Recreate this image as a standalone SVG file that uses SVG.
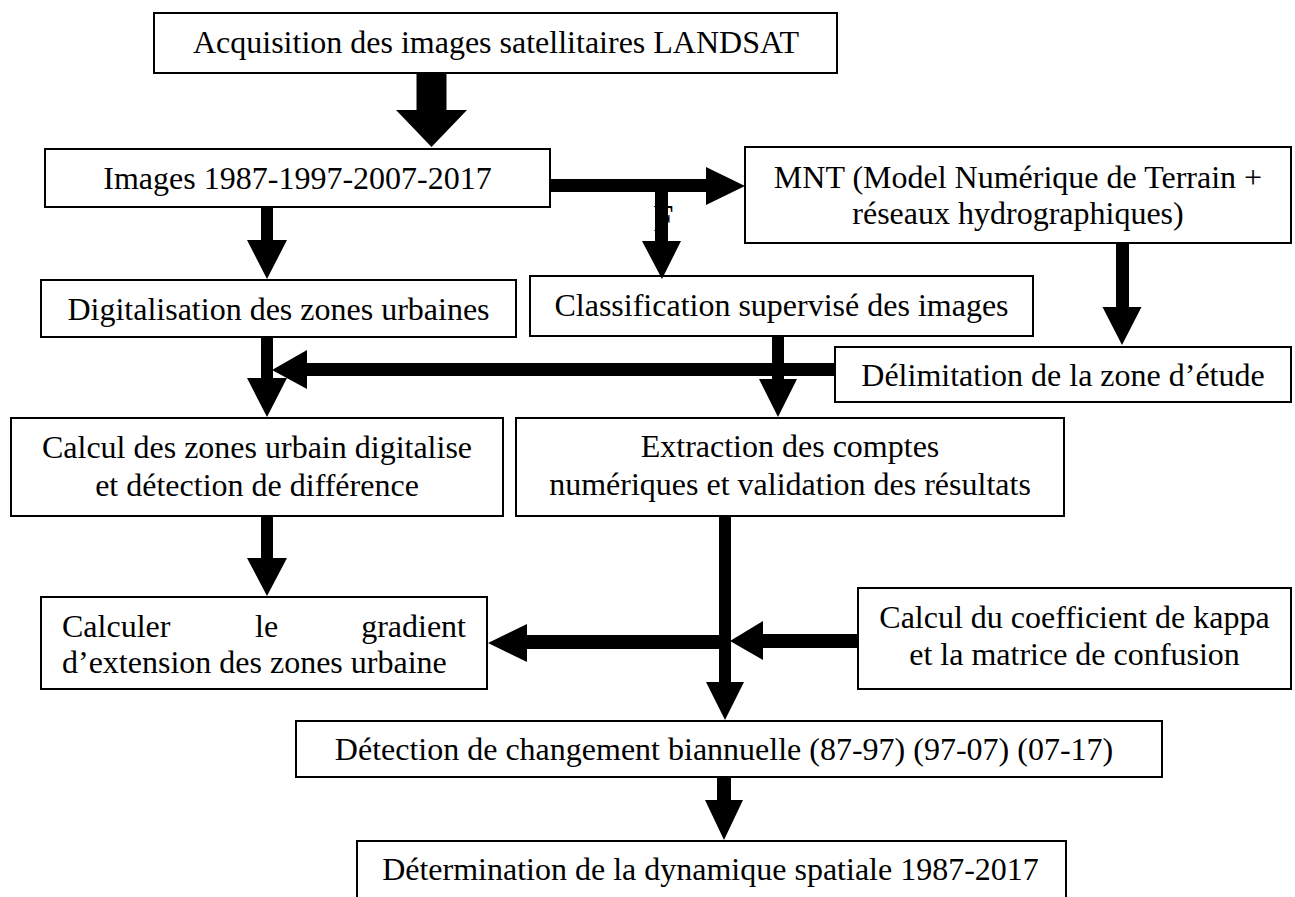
<svg xmlns="http://www.w3.org/2000/svg" width="1295" height="897" viewBox="0 0 1295 897">
<style>
.box{fill:#fff;stroke:#000;stroke-width:2}
.t{font-family:"Liberation Serif","Times New Roman",serif;font-size:32px;fill:#000;text-anchor:middle}
.l{text-anchor:start}
.e{text-anchor:end}
.arrow{fill:#000;stroke:none}
</style>
<rect width="1295" height="897" fill="#fff"/>
<g id="n1"><rect class="box" x="154" y="13" width="683" height="60"/><text class="t" x="496" y="53">Acquisition des images satellitaires LANDSAT</text></g>
<g id="n2"><rect class="box" x="45" y="149" width="505" height="58"/><text class="t" x="297.5" y="189">Images 1987-1997-2007-2017</text></g>
<g id="n3"><rect class="box" x="745" y="147" width="546" height="96"/><text class="t" x="1018" y="188">MNT (Model Numérique de Terrain +</text><text class="t" x="1018" y="224">réseaux hydrographiques)</text></g>
<g id="n4"><rect class="box" x="41" y="280" width="475" height="57"/><text class="t" x="278.5" y="320">Digitalisation des zones urbaines</text></g>
<g id="n5"><rect class="box" x="530" y="276" width="503" height="60"/><text class="t" x="781.5" y="316">Classification supervisé des images</text></g>
<g id="n6"><rect class="box" x="835" y="347" width="456" height="55"/><text class="t" x="1063" y="386">Délimitation de la zone d’étude</text></g>
<g id="n7"><rect class="box" x="11" y="418" width="492" height="98"/><text class="t" x="257" y="458">Calcul des zones urbain digitalise</text><text class="t" x="257" y="496">et détection de différence</text></g>
<g id="n8"><rect class="box" x="516" y="418" width="548" height="98"/><text class="t" x="790" y="457">Extraction des comptes</text><text class="t" x="790" y="495">numériques et validation des résultats</text></g>
<g id="n9"><rect class="box" x="41" y="597" width="446" height="92"/><text class="t l" x="62" y="637">Calculer</text><text class="t l" x="255" y="637">le</text><text class="t e" x="466" y="637">gradient</text><text class="t l" x="62" y="673">d’extension des zones urbaine</text></g>
<g id="n10"><rect class="box" x="858" y="588" width="433" height="101"/><text class="t" x="1074.5" y="628">Calcul du coefficient de kappa</text><text class="t" x="1074.5" y="665">et la matrice de confusion</text></g>
<g id="n11"><rect class="box" x="296" y="721" width="866" height="56"/><text class="t" x="724" y="760">Détection de changement biannuelle (87-97) (97-07) (07-17)</text></g>
<g id="n12"><rect class="box" x="357" y="841" width="709" height="60"/><text class="t" x="710.5" y="880">Détermination de la dynamique spatiale 1987-2017</text></g>
<g id="stray"><text class="t l" x="653" y="231" style="font-size:37px">F</text></g>
<g id="connectors">
<polygon class="arrow" points="416.5,73 446.5,73 446.5,110 467,110 431.5,147 396,110 416.5,110"/>
<polygon class="arrow" points="261,207 273,207 273,240 287,240 267,279 247,240 261,240"/>
<polygon class="arrow" points="550,179 706,179 706,167 745,186 706,205 706,192 550,192"/>
<polygon class="arrow" points="655,192 668,192 668,241 681,241 662,279 642,241 655,241"/>
<polygon class="arrow" points="1116,243 1129,243 1129,307 1141.5,307 1122,345 1102.5,307 1116,307"/>
<polygon class="arrow" points="772,336 784,336 784,379 797,379 778,417 759,379 772,379"/>
<polygon class="arrow" points="835,363 835,376 307,376 307,389 272,370 307,350 307,363"/>
<polygon class="arrow" points="261,337 273,337 273,378 287,378 267,417 247,378 261,378"/>
<polygon class="arrow" points="261,516 273,516 273,558 287,558 267,596 247,558 261,558"/>
<polygon class="arrow" points="719,516 731,516 731,682 744,682 725,720 706,682 719,682"/>
<polygon class="arrow" points="725,635 725,649 527,649 527,662 488,643 527,624 527,635"/>
<polygon class="arrow" points="858,634 858,648 763,648 763,660 730,641 763,621 763,634"/>
<polygon class="arrow" points="717,777 731,777 731,800 743,800 724,840 705,800 717,800"/>
</g>
</svg>
